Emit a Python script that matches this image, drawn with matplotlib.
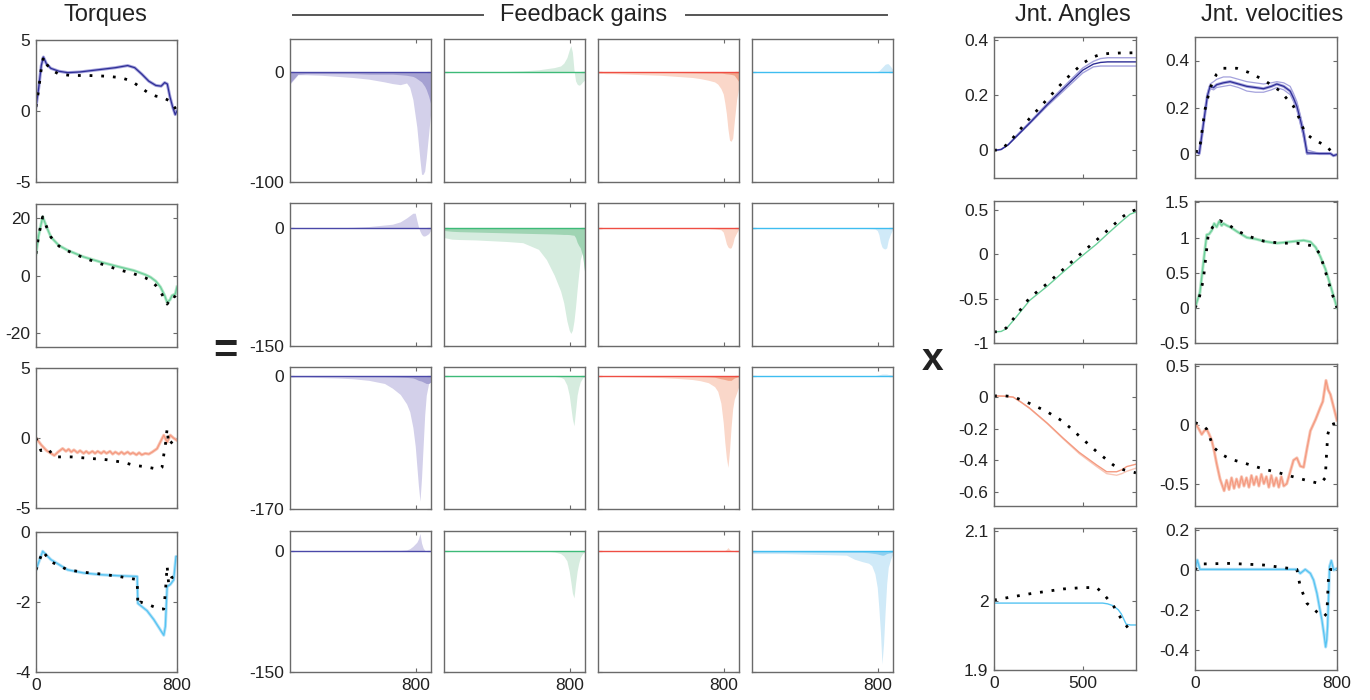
import matplotlib
matplotlib.use("Agg")
import matplotlib.pyplot as plt
from matplotlib.lines import Line2D
from matplotlib.ticker import FormatStrFormatter

plt.rcParams['font.family'] = ['Liberation Sans', 'DejaVu Sans']
plt.rcParams['axes.unicode_minus'] = False

W, H = 1370, 700

# ---------------- torques ----------------
tq1_t = [0, 15, 30, 42, 60, 85, 130, 180, 250, 350, 450, 520, 560, 600, 640, 680, 710, 730, 745, 760, 775, 790, 800]
tq1 = [0.3, 1.6, 3.2, 3.8, 3.3, 3.0, 2.8, 2.7, 2.75, 2.9, 3.05, 3.2, 3.05, 2.6, 2.1, 1.8, 1.75, 2.0, 1.9, 1.0, 0.3, -0.25, 0.0]
tq1_ref_t = [0, 15, 30, 42, 60, 85, 130, 200, 300, 400, 480, 520, 560, 600, 640, 680, 720, 760, 790, 800]
tq1_ref = [0.3, 1.5, 3.0, 3.8, 3.3, 2.9, 2.6, 2.5, 2.5, 2.45, 2.35, 2.2, 1.95, 1.6, 1.25, 1.05, 0.95, 0.7, 0.2, 0.0]

tq2_t = [0, 15, 38, 60, 85, 130, 180, 270, 367, 460, 555, 620, 650, 680, 706, 730, 744, 760, 772, 790, 800]
tq2 = [7.6, 14, 20.5, 17, 13.4, 10.5, 8.8, 6.5, 4.7, 3.2, 1.75, 0.3, -0.6, -2, -4, -7, -9.4, -8.5, -7, -6.5, -4]
tq2_ref = [7.6, 14, 20.5, 17, 13.4, 10.3, 8.6, 6.2, 4.1, 2.2, 0.6, -0.8, -1.75, -3.5, -5.5, -8.5, -10, -8.5, -7, -7.5, -8.2]

tq3_t = [0, 30, 60, 104, 125, 151, 170, 185, 200, 215, 235, 250, 270, 285, 300, 320, 335, 350, 370, 385,
         400, 420, 435, 450, 470, 485, 500, 520, 535, 550, 570, 585, 600, 620, 640, 660, 687, 705, 725, 744,
         762, 780, 800]
tq3 = [0, -0.5, -0.9, -1.25, -1.0, -0.75, -0.95, -0.8, -1.0, -0.85, -1.05, -0.9, -1.1, -0.95, -1.1, -0.95, -1.1, -0.95, -1.1, -0.95,
       -1.1, -0.95, -1.15, -1.0, -1.15, -1.0, -1.15, -1.0, -1.15, -1.05, -1.2, -1.05, -1.2, -1.1, -1.15, -1.0, -0.76, -0.3, 0.2, -0.3,
       0.2, 0.0, -0.17]
tq3_ref_t = [0, 28, 50, 70, 104, 200, 300, 400, 500, 555, 620, 680, 706, 715, 725, 734, 744, 753, 770, 800]
tq3_ref = [0, -0.9, -0.76, -0.8, -1.35, -1.35, -1.45, -1.55, -1.75, -1.95, -2.05, -2.2, -2.2, -2.1, -1.2, -0.5, 0.67, -0.5, -0.3, 0]

tq4_t = [0, 38, 85, 179, 270, 367, 470, 574, 578, 593, 630, 668, 706, 725, 734, 744, 762, 781, 794, 800]
tq4 = [-1.08, -0.55, -0.79, -1.08, -1.17, -1.22, -1.25, -1.27, -2.04, -2.1, -2.25, -2.5, -2.8, -2.95, -2.7, -1.56, -1.5, -1.37, -0.7, -0.7]
tq4_ref_t = [0, 38, 85, 179, 270, 367, 470, 574, 578, 593, 650, 700, 725, 734, 744, 753, 770, 800]
tq4_ref = [-1.08, -0.55, -0.85, -1.08, -1.15, -1.2, -1.27, -1.36, -2.1, -2.0, -2.1, -2.2, -2.2, -1.73, -0.97, -1.5, -1.3, -1.25]

# ---------------- feedback gains (envelopes on a shared time grid) ----------------
gx = [0, 50, 100, 200, 300, 400, 500, 600, 650, 700, 740, 760, 780, 795, 805, 815, 825, 835, 845, 855, 865, 880, 895]

g11 = [-11, -2.5, -2.5, -3, -4, -5, -6.5, -9, -10.5, -11.5, -10, -14, -25, -40, -50, -65, -80, -93, -93, -90, -78, -56, -34]
g11_d = [-10, -2, -1.5, -1.5, -1.5, -1.5, -2, -2, -2, -2.5, -3, -3.5, -4, -5, -6, -7, -8, -9, -11, -13, -16, -22, -30]
g12 = [0, 0, 0, 0, 0, 0.5, 1, 2, 3, 4, 5.5, 8, 13, 20, 24, 18, 2, -8, -11, -12, -11.5, -9, -7]
g13 = [-1, -1.5, -1.5, -2, -2.5, -3, -4, -5, -6, -7.5, -9, -11, -15, -20, -28, -38, -52, -62, -63, -60, -45, -25, -13]
g13_d = [-0.5, -0.5, -0.5, -0.5, -0.5, -0.5, -0.5, -0.7, -0.8, -0.9, -1, -1, -1, -1.2, -1.5, -1.7, -1.8, -2, -2.2, -2.5, -3, -6, -9]
g14 = [0, 0, 0, 0, 0, 0, 0, 0, 0, 0, 0, 0, 0, 0.5, 1, 2.5, 4, 5.5, 7, 7.5, 7.5, 5, 2]

g21 = [0, 0, 0, 0, 0.5, 1, 2, 4, 5, 8, 13, 16, 19, 19, 10, 2, -4, -8, -10, -10, -9, -7, -2]
g22 = [-12, -14, -14.5, -15, -16, -17, -18.5, -27, -40, -60, -80, -95, -118, -130, -134, -130, -118, -100, -78, -58, -40, -30, -60]
g22_d = [-3, -4, -4.5, -5, -5.5, -6, -6.5, -7, -7.2, -7.5, -7.8, -8, -8, -8.2, -8.5, -8.8, -9, -12, -18, -22, -25, -35, -60]
g23 = [-1, 0, 0, 0, 0, 0, 0, 0, 0, -0.5, -1, -1.5, -2, -5, -12, -20, -24, -25.5, -25, -20, -12, -6, -1]
g24 = [-1, 0, 0, 0, 0, 0, 0, 0, 0, -0.3, -0.5, -0.7, -1, -3, -8, -18, -24, -26, -26.5, -25, -15, -7, -1]

g31 = [-2, -2, -2, -2.5, -3, -4, -6, -10, -16, -24, -36, -46, -66, -90, -115, -140, -160, -130, -90, -50, -25, -10, -2]
g31_d = [-1, -1, -1, -1, -1, -1.2, -1.3, -1.5, -1.7, -2, -2.3, -2.6, -3, -4, -5, -6, -6.5, -7, -8, -9, -10, -10, -8]
g32 = [-1, -0.5, -0.5, -0.5, -0.5, -0.5, -0.5, -0.7, -0.8, -1, -2, -4, -12, -25, -40, -55, -64, -45, -25, -15, -8, -3, -1]
g33 = [-0.5, -0.7, -1, -1.5, -2, -2.5, -3.5, -5, -6.5, -9, -14, -20, -35, -60, -85, -105, -117, -95, -65, -42, -30, -22, -13]
g33_d = [-0.3, -0.3, -0.4, -0.5, -0.6, -0.7, -0.8, -1, -1.2, -1.5, -2, -3, -4, -4.5, -5, -5.5, -6, -6, -6, -4.5, -3, -2, -1]
g34 = [0, 0, 0, 0, 0, 0, 0, 0, 0, 0, 0, 0, 0, 0.5, 1, 1.5, 2, 2, 2, 2, 1.5, 1, 0.5]

g41 = [0, 0, 0, 0, 0, 0, 0.5, 1, 1, 1, 1.5, 3, 6, 9, 11, 15, 22, 10, 4, 1, 0.5, 0, 0]
g42 = [0, 0, 0, 0, 0.5, 0.5, 0, 0, 0, -1, -3, -6, -12, -25, -38, -52, -58, -40, -25, -15, -8, -3, -1]
g43 = [0, 0, 0, 0, 0, 0, 0.5, 1, 1, 1, 1, 1, 1, 1, 1, 2, 4.5, 2, 1, 1, 0.5, 0.5, 0.5]
g44 = [-3, -3, -3, -3, -3.5, -4, -4.5, -5, -10, -13, -15, -18, -28, -45, -70, -100, -140, -115, -75, -40, -20, -10, -3]
g44_d = [-1, -1, -1, -1, -1, -1.2, -1.3, -1.5, -1.5, -1.5, -2, -2.5, -3, -3.5, -4, -4.5, -5, -5, -4, -3, -2.5, -2, -1]

# ---------------- joint angles ----------------
ang1_t = [0, 40, 80, 120, 200, 300, 400, 500, 560, 600, 640, 700, 800]
ang1_lo = [0.0, 0.003, 0.02, 0.045, 0.095, 0.16, 0.22, 0.28, 0.302, 0.305, 0.305, 0.305, 0.305]
ang1_mid = [0.0, 0.003, 0.02, 0.046, 0.098, 0.165, 0.228, 0.29, 0.312, 0.318, 0.32, 0.32, 0.32]
ang1_hi = [0.0, 0.004, 0.022, 0.05, 0.102, 0.17, 0.235, 0.298, 0.322, 0.332, 0.335, 0.335, 0.335]
ang1_ref = [0.0, 0.004, 0.025, 0.055, 0.115, 0.185, 0.255, 0.315, 0.338, 0.347, 0.35, 0.352, 0.353]

ang2_t = [0, 40, 69, 120, 201, 300, 390, 480, 578, 640, 690, 730, 766, 800]
ang2 = [-0.875, -0.87, -0.84, -0.72, -0.52, -0.36, -0.2, -0.045, 0.115, 0.23, 0.32, 0.39, 0.45, 0.477]
ang2_ref = [-0.875, -0.87, -0.83, -0.7, -0.49, -0.33, -0.17, -0.01, 0.16, 0.27, 0.36, 0.43, 0.48, 0.5]

ang3_t = [0, 60, 108, 150, 201, 300, 390, 480, 578, 635, 691, 720, 748, 800]
ang3 = [0.008, 0.006, 0.0, -0.03, -0.07, -0.165, -0.26, -0.35, -0.43, -0.473, -0.473, -0.46, -0.44, -0.425]
ang3_lo = [0.008, 0.006, 0.0, -0.03, -0.072, -0.168, -0.265, -0.358, -0.44, -0.485, -0.495, -0.485, -0.47, -0.45]
ang3_ref_t = [0, 60, 108, 201, 295, 390, 484, 578, 672, 729, 766, 800]
ang3_ref = [0.008, 0.008, 0.003, -0.04, -0.09, -0.155, -0.25, -0.345, -0.43, -0.46, -0.47, -0.48]

ang4_t = [0, 300, 612, 640, 669, 700, 717, 745, 770, 800]
ang4 = [1.9966, 1.9966, 1.9966, 1.9955, 1.993, 1.987, 1.981, 1.966, 1.965, 1.965]
ang4_ref_t = [0, 201, 390, 503, 578, 616, 672, 719, 766, 790]
ang4_ref = [2.001, 2.01, 2.017, 2.019, 2.019, 2.01, 1.993, 1.973, 1.957, 1.955]

# ---------------- joint velocities ----------------
vel1_t = [0, 12, 24, 40, 56, 70, 85, 105, 122, 160, 198, 245, 292, 340, 386, 430, 461, 500, 536, 555, 574, 593, 612, 631, 700, 763, 780, 800]
vel1 = [0.014, 0.01, 0.004, 0.09, 0.177, 0.25, 0.29, 0.285, 0.297, 0.305, 0.31, 0.3, 0.29, 0.285, 0.28, 0.29, 0.3, 0.29, 0.27, 0.24, 0.205, 0.15, 0.09, 0.007, 0.004, 0.004, -0.005, 0.0]
vel1_hi = [0.014, 0.01, 0.004, 0.095, 0.185, 0.26, 0.3, 0.31, 0.32, 0.33, 0.33, 0.32, 0.31, 0.305, 0.3, 0.305, 0.31, 0.305, 0.29, 0.26, 0.225, 0.17, 0.11, 0.02, 0.004, 0.004, -0.005, 0.0]
vel1_lo = [0.014, 0.01, 0.004, 0.085, 0.17, 0.24, 0.28, 0.275, 0.285, 0.29, 0.295, 0.285, 0.27, 0.265, 0.265, 0.275, 0.285, 0.275, 0.255, 0.225, 0.19, 0.13, 0.07, 0.0, 0.004, 0.004, -0.005, 0.0]
vel1_ref_t = [0, 24, 56, 85, 120, 160, 235, 300, 386, 480, 555, 590, 612, 640, 668, 743, 770, 800]
vel1_ref = [0.014, 0.012, 0.19, 0.283, 0.34, 0.367, 0.367, 0.35, 0.318, 0.27, 0.205, 0.15, 0.106, 0.08, 0.064, 0.035, 0.01, 0.007]

vel2_t = [0, 28, 50, 66, 80, 94, 108, 122, 136, 150, 160, 180, 198, 240, 292, 340, 386, 430, 461, 500, 536, 575, 612, 650, 680, 706, 735, 763, 800]
vel2 = [0.0, 0.22, 0.7, 1.04, 1.05, 1.1, 1.2, 1.15, 1.23, 1.17, 1.2, 1.17, 1.15, 1.08, 1.0, 0.98, 0.95, 0.93, 0.92, 0.93, 0.94, 0.95, 0.96, 0.94, 0.86, 0.73, 0.55, 0.32, 0.0]
vel2_ref_t = [0, 20, 47, 75, 100, 141, 190, 235, 300, 386, 480, 574, 668, 700, 725, 763, 800]
vel2_ref = [0.0, 0.1, 0.4, 1.05, 1.15, 1.24, 1.18, 1.1, 1.02, 0.95, 0.92, 0.92, 0.88, 0.78, 0.6, 0.27, 0.0]

vel3_t = [0, 20, 38, 52, 66, 80, 94, 108, 122, 141, 164, 178, 192, 206, 220, 234, 248, 262, 276, 290,
          304, 318, 332, 346, 360, 374, 388, 402, 416, 430, 444, 458, 472, 486, 500, 517, 536, 555, 574, 593,
          612, 631, 650, 680, 706, 720, 738, 750, 763, 800]
vel3 = [0.02, -0.03, -0.08, -0.05, -0.035, -0.08, -0.13, -0.22, -0.33, -0.46, -0.56, -0.47, -0.55, -0.45, -0.54, -0.46, -0.53, -0.44, -0.52, -0.45,
        -0.53, -0.43, -0.51, -0.44, -0.52, -0.42, -0.5, -0.44, -0.53, -0.43, -0.52, -0.45, -0.53, -0.44, -0.52, -0.5, -0.4, -0.3, -0.28, -0.35,
        -0.36, -0.2, -0.05, 0.05, 0.15, 0.2, 0.38, 0.3, 0.26, 0.04]
vel3_ref_t = [0, 40, 66, 104, 150, 198, 290, 386, 480, 574, 650, 706, 734, 741, 748, 763, 800]
vel3_ref = [0.02, 0.0, -0.035, -0.19, -0.25, -0.29, -0.33, -0.375, -0.41, -0.45, -0.48, -0.5, -0.45, -0.25, -0.08, 0.0, 0.02]

vel4_t = [0, 13, 28, 200, 400, 574, 593, 621, 650, 668, 687, 700, 715, 728, 736, 742, 747, 758, 768, 781, 800]
vel4 = [0.0, 0.05, 0.003, 0.003, 0.003, 0.003, -0.017, 0.003, -0.017, -0.05, -0.117, -0.18, -0.25, -0.33, -0.385, -0.35, -0.28, 0.017, 0.047, 0.0, 0.008]
vel4_ref_t = [0, 28, 198, 386, 574, 593, 631, 687, 725, 743, 753, 763, 800]
vel4_ref = [0.0, 0.03, 0.033, 0.025, 0.003, -0.084, -0.167, -0.21, -0.234, -0.217, -0.017, 0.003, 0.0]

# ---------------- styles ----------------
line_c = ['#2e2e96', '#6cd09a', '#f49a80', '#55c4f2']
band_c = ['#a4a2dc', '#b4e6c8', '#f9c6b6', '#b0e0f8']
g_line = ['#4a48a8', '#3dba78', '#ef4d43', '#3fbdf0']
g_light = ['#d3d0ea', '#d6ecdf', '#fad7c9', '#d0eaf8']
g_dark = ['#a5a1d2', '#9fd4b3', '#f2a58a', '#8fd0f0']
SPINE = '#6a6a6a'
REF = dict(color='black', lw=2.0, linestyle=(0, (1, 3.2)))

fig = plt.figure(figsize=(W / 100, H / 100), dpi=100)


def ax_at(x0, y0, x1, y1):
    ax = fig.add_axes([x0 / W, 1 - y1 / H, (x1 - x0) / W, (y1 - y0) / H])
    for s in ax.spines.values():
        s.set_color(SPINE)
        s.set_linewidth(1.0)
    ax.tick_params(direction='in', length=3, width=0.8, color=SPINE, labelsize=12.5,
                   top=True, right=True, labelcolor='#222222', pad=4)
    ax.yaxis.set_major_formatter(FormatStrFormatter('%g'))
    ax.xaxis.set_major_formatter(FormatStrFormatter('%g'))
    return ax


tq_rows = [(40, 182), (204, 347), (368, 508), (532, 672)]
g_rows = [(39, 182), (203, 346), (367, 509), (531, 672)]
jv_rows = [(37, 178), (201, 343), (364, 506), (528, 670)]
g_cols = [(290, 431), (444, 585), (598, 739), (752, 893)]

# torques
tq_data = [(tq1_t, tq1, tq1_ref_t, tq1_ref), (tq2_t, tq2, tq2_t, tq2_ref),
           (tq3_t, tq3, tq3_ref_t, tq3_ref), (tq4_t, tq4, tq4_ref_t, tq4_ref)]
tq_lim = [(-5, 5), (-25, 25), (-5, 5), (-4, 0)]
tq_ticks = [[-5, 0, 5], [-20, 0, 20], [-5, 0, 5], [-4, -2, 0]]
for i, (t, y, rt, ry) in enumerate(tq_data):
    ax = ax_at(36, tq_rows[i][0], 177, tq_rows[i][1])
    ax.plot(t, y, color=band_c[i], lw=2.2)
    ax.plot(t, y, color=line_c[i], lw=0.9)
    ax.plot(rt, ry, **REF)
    ax.set_xlim(0, 800)
    ax.set_ylim(*tq_lim[i])
    ax.set_yticks(tq_ticks[i])
    ax.set_xticks([0, 800])
    if i < 3:
        ax.set_xticklabels([])

# feedback gains
g_light_data = [[g11, g12, g13, g14], [g21, g22, g23, g24], [g31, g32, g33, g34], [g41, g42, g43, g44]]
g_dark_data = [[g11_d, None, g13_d, None], [None, g22_d, None, None], [g31_d, None, g33_d, None], [None, None, None, g44_d]]
g_lim = [(-100, 30), (-150, 32), (-170, 11), (-150, 25)]
for r in range(4):
    for c in range(4):
        ax = ax_at(g_cols[c][0], g_rows[r][0], g_cols[c][1], g_rows[r][1])
        ax.fill_between(gx, 0, g_light_data[r][c], color=g_light[c], lw=0)
        if g_dark_data[r][c] is not None:
            ax.fill_between(gx, 0, g_dark_data[r][c], color=g_dark[c], lw=0)
        ax.axhline(0, color=g_line[c], lw=1.0)
        ax.set_xlim(0, 895)
        ax.set_ylim(*g_lim[r])
        ax.set_yticks([g_lim[r][0], 0])
        ax.set_xticks([800])
        if c > 0:
            ax.set_yticklabels([])
        if r < 3:
            ax.set_xticklabels([])

# joint angles
ang_data = [(ang1_t, [ang1_lo, ang1_hi, ang1_mid], ang1_t, ang1_ref),
            (ang2_t, [ang2], ang2_t, ang2_ref),
            (ang3_t, [ang3_lo, ang3], ang3_ref_t, ang3_ref),
            (ang4_t, [ang4], ang4_ref_t, ang4_ref)]
ang_lim = [(-0.1, 0.41), (-1, 0.6), (-0.69, 0.21), (1.9, 2.105)]
ang_ticks = [[0, 0.2, 0.4], [-1, -0.5, 0, 0.5], [-0.6, -0.4, -0.2, 0], [1.9, 2, 2.1]]
for i, (t, ys, rt, ry) in enumerate(ang_data):
    ax = ax_at(994, jv_rows[i][0], 1136, jv_rows[i][1])
    for k, y in enumerate(ys):
        last = k == len(ys) - 1
        ax.plot(t, y, color=line_c[i] if last else band_c[i], lw=1.0)
    ax.plot(rt, ry, **REF)
    ax.set_xlim(0, 800)
    ax.set_ylim(*ang_lim[i])
    ax.set_yticks(ang_ticks[i])
    ax.set_xticks([0, 500])
    if i < 3:
        ax.set_xticklabels([])

# joint velocities
vel_data = [(vel1_t, [vel1_hi, vel1_lo, vel1], vel1_ref_t, vel1_ref),
            (vel2_t, [vel2], vel2_ref_t, vel2_ref),
            (vel3_t, [vel3], vel3_ref_t, vel3_ref),
            (vel4_t, [vel4], vel4_ref_t, vel4_ref)]
vel_lim = [(-0.1, 0.5), (-0.48, 1.52), (-0.69, 0.52), (-0.5, 0.21)]
vel_ticks = [[0, 0.2, 0.4], [-0.5, 0, 0.5, 1, 1.5], [-0.5, 0, 0.5], [-0.4, -0.2, 0, 0.2]]
for i, (t, ys, rt, ry) in enumerate(vel_data):
    ax = ax_at(1195, jv_rows[i][0], 1337, jv_rows[i][1])
    for k, y in enumerate(ys):
        last = k == len(ys) - 1
        if last:
            ax.plot(t, y, color=band_c[i], lw=2.2)
        ax.plot(t, y, color=line_c[i] if last else band_c[i], lw=0.9)
    ax.plot(rt, ry, **REF)
    ax.set_xlim(0, 800)
    ax.set_ylim(*vel_lim[i])
    ax.set_yticks(vel_ticks[i])
    ax.set_xticks([0, 800])
    if i < 3:
        ax.set_xticklabels([])

# headers and operators
TXT = '#222222'
fig.text(105 / W, 1 - 15 / H, 'Torques', ha='center', va='center', fontsize=17, color=TXT)
fig.text(584 / W, 1 - 15 / H, 'Feedback gains', ha='center', va='center', fontsize=17, color=TXT)
fig.text(1073 / W, 1 - 15 / H, 'Jnt. Angles', ha='center', va='center', fontsize=17, color=TXT)
fig.text(1272 / W, 1 - 15 / H, 'Jnt. velocities', ha='center', va='center', fontsize=17, color=TXT)
for xa, xb in [(293, 483), (686, 887)]:
    fig.add_artist(Line2D([xa / W, xb / W], [1 - 15 / H, 1 - 15 / H], color='#555555', lw=1.4))
fig.text(225 / W, 1 - 352 / H, '=', ha='center', va='center', fontsize=30, fontweight='bold', color=TXT)
fig.text(933 / W, 1 - 360 / H, 'x', ha='center', va='center', fontsize=28, fontweight='bold', color=TXT)

fig.savefig('out.png', dpi=100, facecolor='white')
